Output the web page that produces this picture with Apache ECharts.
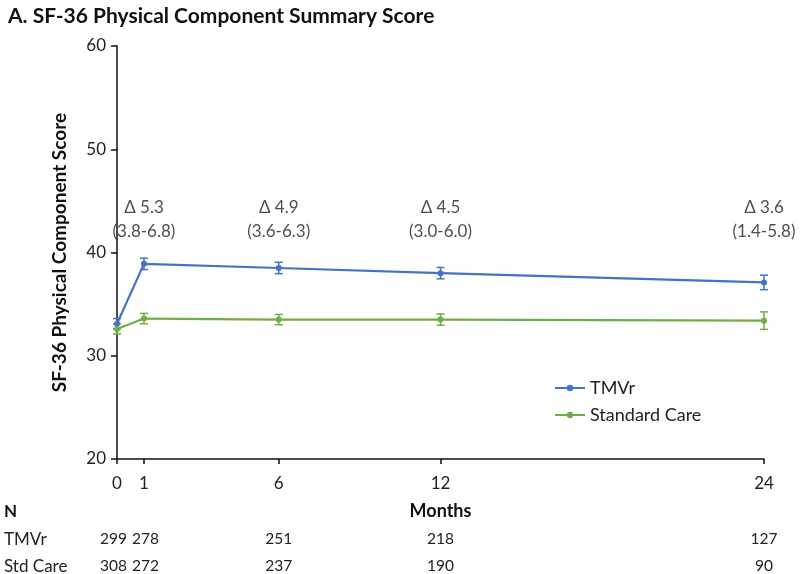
<!DOCTYPE html>
<html>
<head>
<meta charset="utf-8">
<script src="https://cdn.jsdelivr.net/npm/echarts@6/dist/echarts.min.js"></script>
<style>
  html, body { margin: 0; padding: 0; background: #fff; }
  #chart { width: 800px; height: 574px; }
</style>
</head>
<body>
<div id="chart"></div>
<script>
// months of follow-up
var months = [0, 1, 6, 12, 24];
// mean PCS score by arm
var tmvr = [33.1, 38.9, 38.5, 38.0, 37.1];
var stdCare = [32.6, 33.6, 33.5, 33.5, 33.4];
// half width of the error bars
var tmvrErr = [0.5, 0.55, 0.55, 0.55, 0.7];
var stdErr = [0.5, 0.5, 0.5, 0.55, 0.85];
// treatment difference at each visit
var deltaMonths = [1, 6, 12, 24];
var deltas = ['5.3', '4.9', '4.5', '3.6'];
var deltaCI = ['3.8-6.8', '3.6-6.3', '3.0-6.0', '1.4-5.8'];
// patients at risk
var nTmvr = [299, 278, 251, 218, 127];
var nStd = [308, 272, 237, 190, 90];

var blue = '#4472C4', green = '#70AD47';
var font = 'Lato, "Noto Sans", sans-serif';

var chart = echarts.init(document.getElementById('chart'));

function pairs(ys) {
  return months.map(function (m, i) { return [m, ys[i]]; });
}
function errData(ys, es) {
  return months.map(function (m, i) { return [m, ys[i] - es[i], ys[i] + es[i]]; });
}
function errBars(color) {
  return function (params, api) {
    var lo = api.coord([api.value(0), api.value(1)]);
    var hi = api.coord([api.value(0), api.value(2)]);
    var w = 4;
    var st = { stroke: color, lineWidth: 1.5 };
    return {
      type: 'group',
      children: [
        { type: 'line', shape: { x1: lo[0], y1: lo[1], x2: hi[0], y2: hi[1] }, style: st },
        { type: 'line', shape: { x1: lo[0] - w, y1: lo[1], x2: lo[0] + w, y2: lo[1] }, style: st },
        { type: 'line', shape: { x1: hi[0] - w, y1: hi[1], x2: hi[0] + w, y2: hi[1] }, style: st }
      ]
    };
  };
}
function nAxis(counts, offset) {
  var base = { fontSize: 15.5, color: '#222', fontFamily: font };
  return {
    type: 'value', min: 0, max: 24, position: 'bottom', offset: offset,
    axisLine: { show: false }, axisTick: { show: false }, splitLine: { show: false },
    axisLabel: {
      customValues: months, margin: 0, fontSize: 15.5, color: '#222', fontFamily: font,
      showMinLabel: true, showMaxLabel: true, hideOverlap: false,
      rich: {
        first: Object.assign({ padding: [0, 7, 0, 0] }, base),
        second: Object.assign({ padding: [0, 0, 0, 3] }, base)
      },
      formatter: function (v) {
        var i = months.indexOf(v);
        if (i === 0) return '{first|' + counts[i] + '}';
        if (i === 1) return '{second|' + counts[i] + '}';
        return String(counts[i]);
      }
    }
  };
}

var option = {
  animation: false,
  textStyle: { fontFamily: font },
  title: {
    text: 'A. SF-36 Physical Component Summary Score',
    left: 3, top: 1,
    textStyle: { fontSize: 21, fontWeight: 'bold', color: '#111', fontFamily: font }
  },
  legend: {
    orient: 'vertical', left: 549, top: 374, itemGap: 9,
    itemWidth: 30, itemHeight: 8,
    textStyle: { fontSize: 18, color: '#222', fontFamily: font },
    data: ['TMVr', 'Standard Care']
  },
  grid: { left: 117, right: 36, top: 46, bottom: 114 },
  xAxis: [
    {
      type: 'value', min: 0, max: 24,
      name: 'Months', nameLocation: 'middle', nameGap: 43,
      nameTextStyle: { fontSize: 18, fontWeight: 'bold', color: '#111' },
      axisLine: { lineStyle: { color: '#111', width: 1.5 } },
      axisTick: { customValues: months, length: 5, lineStyle: { color: '#111', width: 1.5 } },
      axisLabel: { customValues: months, fontSize: 17, color: '#222', margin: 16,
        showMinLabel: true, showMaxLabel: true, hideOverlap: false },
      splitLine: { show: false }
    },
    nAxis(nTmvr, 72),
    nAxis(nStd, 99)
  ],
  yAxis: {
    type: 'value', min: 20, max: 60, interval: 10,
    name: 'SF-36 Physical Component Score', nameLocation: 'middle', nameGap: 48,
    nameTextStyle: { fontSize: 19, fontWeight: 'bold', color: '#111' },
    axisLine: { show: true, lineStyle: { color: '#111', width: 1.5 } },
    axisTick: { show: true, length: 6, lineStyle: { color: '#111', width: 1.5 } },
    axisLabel: { fontSize: 17, color: '#222', margin: 11 },
    splitLine: { show: false }
  },
  graphic: [
    { type: 'text', left: 4, top: 503, style: { text: 'N', fill: '#111', font: 'bold 17px ' + font } },
    { type: 'text', left: 4, top: 531, style: { text: 'TMVr', fill: '#222', font: '17px ' + font } },
    { type: 'text', left: 4, top: 558, style: { text: 'Std Care', fill: '#222', font: '17px ' + font } }
  ],
  series: [
    {
      name: 'TMVr', type: 'line', data: pairs(tmvr),
      symbol: 'circle', symbolSize: 6, color: blue,
      lineStyle: { width: 2.2 }, z: 3
    },
    {
      name: 'Standard Care', type: 'line', data: pairs(stdCare),
      symbol: 'circle', symbolSize: 6, color: green,
      lineStyle: { width: 2.2 }, z: 3
    },
    { type: 'custom', data: errData(tmvr, tmvrErr), renderItem: errBars(blue), z: 2, silent: true },
    { type: 'custom', data: errData(stdCare, stdErr), renderItem: errBars(green), z: 2, silent: true },
    {
      type: 'scatter', symbolSize: 1, itemStyle: { color: 'transparent' }, silent: true,
      data: deltaMonths.map(function (m) { return [m, 43.2]; }),
      label: {
        show: true, position: 'inside', fontSize: 17, color: '#222', lineHeight: 24,
        formatter: function (p) {
          return '\u0394 ' + deltas[p.dataIndex] + '\n(' + deltaCI[p.dataIndex] + ')';
        }
      }
    }
  ]
};
chart.setOption(option);
</script>
</body>
</html>
